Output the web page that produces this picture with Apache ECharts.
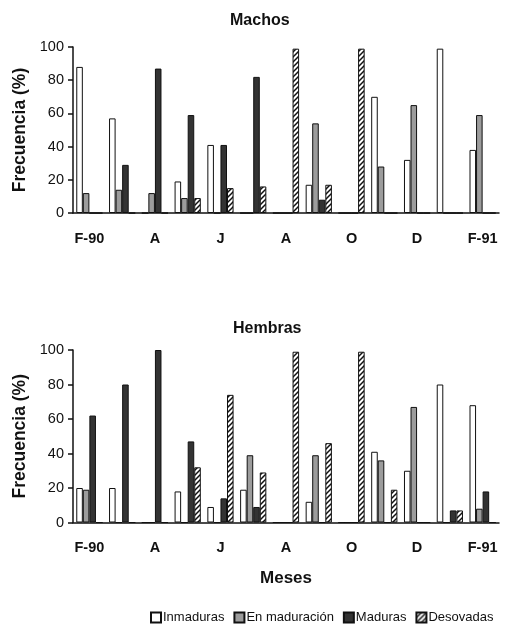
<!DOCTYPE html>
<html>
<head>
<meta charset="utf-8">
<script src="https://cdn.jsdelivr.net/npm/echarts@6/dist/echarts.min.js"></script>
<style>html,body{margin:0;padding:0;background:#fff}#c{width:507px;height:630px}</style>
</head>
<body>
<div id="c"></div>
<script>
const months = ['F-90','M','A','M','J','J','A','S','O','N','D','E','F-91'];
const seriesNames = ['Inmaduras','En maduración','Maduras','Desovadas'];
const machosInmaduras = [88,57,0,19,41,0,0,17,0,70,32,99,38];
const machosEnMaduracion = [12,14,12,9,0,0,0,54,0,28,65,0,59];
const machosMaduras = [0,29,87,59,41,82,0,8,0,0,0,0,0];
const machosDesovadas = [0,0,0,9,15,16,99,17,99,0,0,0,0];
const hembrasInmaduras = [20,20,0,18,9,19,0,12,0,41,30,80,68];
const hembrasEnMaduracion = [19,0,0,0,0,39,0,39,0,36,67,0,8];
const hembrasMaduras = [62,80,100,47,14,9,0,0,0,0,0,7,18];
const hembrasDesovadas = [0,0,0,32,74,29,99,46,99,19,0,7,0];
const yTicks = [0,20,40,60,80,100];

function hatch(){
  const c=document.createElement('canvas'); c.width=c.height=5;
  const g=c.getContext('2d');
  g.fillStyle='#fff'; g.fillRect(0,0,5,5);
  g.strokeStyle='#111'; g.lineWidth=1.5;
  g.beginPath();
  g.moveTo(0,5); g.lineTo(5,0);
  g.moveTo(-1,1); g.lineTo(1,-1);
  g.moveTo(4,6); g.lineTo(6,4);
  g.stroke();
  return c;
}
const styles = [
  {color:'#ffffff', borderColor:'#111', borderWidth:1},
  {color:'#9c9c9c', borderColor:'#111', borderWidth:1},
  {color:'#333333', borderColor:'#111', borderWidth:1},
  {color:{image:hatch(), repeat:'repeat'}, borderColor:'#111', borderWidth:1}
];
const font = 'Liberation Sans, Arial, sans-serif';
function xAx(idx, name){
  return {type:'category', gridIndex:idx, data:months, boundaryGap:true,
    axisLine:{lineStyle:{color:'#111', width:1.5}},
    axisTick:{interval:0, length:5, lineStyle:{color:'#111', width:1.5}},
    axisLabel:{interval:1, margin:18, color:'#111', fontSize:14.5, fontWeight:'bold', fontFamily:font},
    name:name, nameLocation:'middle', nameGap:47,
    nameTextStyle:{fontSize:17, fontWeight:'bold', color:'#111', fontFamily:font}};
}
function yAx(idx){
  return {type:'value', gridIndex:idx, min:yTicks[0], max:yTicks[yTicks.length-1], interval:20,
    splitLine:{show:false},
    axisLine:{show:true, lineStyle:{color:'#111', width:1.5}},
    axisTick:{show:true, length:5, lineStyle:{color:'#111', width:1.5}},
    axisLabel:{margin:9, color:'#111', fontSize:14.5, fontFamily:font},
    name:'Frecuencia (%)', nameLocation:'middle', nameGap:44, nameRotate:90,
    nameTextStyle:{fontSize:17.5, fontWeight:'bold', color:'#111', fontFamily:font}};
}
const machos = [machosInmaduras, machosEnMaduracion, machosMaduras, machosDesovadas];
const hembras = [hembrasInmaduras, hembrasEnMaduracion, hembrasMaduras, hembrasDesovadas];
const series = [];
[machos, hembras].forEach((grp, gi) => {
  grp.forEach((d, i) => {
    series.push({name:seriesNames[i], type:'bar', xAxisIndex:gi, yAxisIndex:gi, data:d,
      barGap:'0%', barCategoryGap:'20%', itemStyle:styles[i], emphasis:{disabled:true}});
  });
});
const chart = echarts.init(document.getElementById('c'), null, {renderer:'canvas'});
chart.setOption({
  animation:false,
  backgroundColor:'#fff',
  title:[
    {text:'Machos', left:225, top:8, textStyle:{fontSize:16, fontWeight:'bold', color:'#111', fontFamily:font}},
    {text:'Hembras', left:228, top:316, textStyle:{fontSize:16, fontWeight:'bold', color:'#111', fontFamily:font}}
  ],
  legend:{data:seriesNames, left:150, top:611, itemGap:9, itemWidth:10, itemHeight:10, padding:0, icon:'rect',
    textStyle:{fontSize:13, color:'#111', fontFamily:font, padding:[0,0,0,-3]}},
  grid:[
    {left:73, right:8, top:47, height:166},
    {left:73, right:8, top:350, height:172.5}
  ],
  xAxis:[xAx(0,''), xAx(1,'Meses')],
  yAxis:[yAx(0), yAx(1)],
  series:series
});
</script>
</body>
</html>
